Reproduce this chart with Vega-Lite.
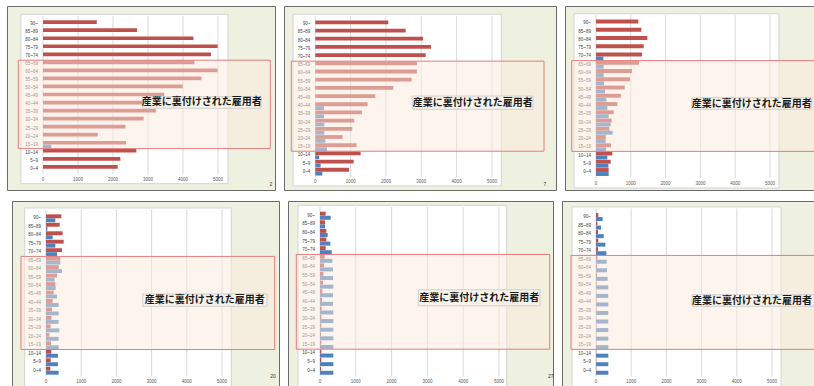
{
  "$schema": "https://vega.github.io/schema/vega-lite/v6.json",
  "background": "#ffffff",
  "padding": {"left": 6, "top": 5, "right": 0, "bottom": 0},
  "spacing": 9,
  "config": {
    "view": {"fill": "#eef0e0", "stroke": "#6b6b6b", "strokeWidth": 1},
    "axis": {"disable": true},
    "text": {"font": "Liberation Sans"}
  },
  "datasets": {
    "ticks": [{"v": 0}, {"v": 1000}, {"v": 2000}, {"v": 3000}, {"v": 4000}, {"v": 5000}],
    "note": [{"text": "産業に裏付けされた雇用者"}],
    "p1": [
      {"age": 90, "label": "90~", "red": 1537, "blue": 0},
      {"age": 85, "label": "85~89", "red": 2685, "blue": 0},
      {"age": 80, "label": "80~84", "red": 4298, "blue": 0},
      {"age": 75, "label": "75~79", "red": 4990, "blue": 0},
      {"age": 70, "label": "70~74", "red": 4801, "blue": 0},
      {"age": 65, "label": "65~69", "red": 4326, "blue": 0},
      {"age": 60, "label": "60~64", "red": 4990, "blue": 0},
      {"age": 55, "label": "55~59", "red": 4526, "blue": 0},
      {"age": 50, "label": "50~54", "red": 3994, "blue": 0},
      {"age": 45, "label": "45~49", "red": 3463, "blue": 0},
      {"age": 40, "label": "40~44", "red": 3150, "blue": 0},
      {"age": 35, "label": "35~39", "red": 3226, "blue": 0},
      {"age": 30, "label": "30~34", "red": 2875, "blue": 0},
      {"age": 25, "label": "25~29", "red": 2353, "blue": 0},
      {"age": 20, "label": "20~24", "red": 1565, "blue": 0},
      {"age": 15, "label": "15~19", "red": 2372, "blue": 237},
      {"age": 10, "label": "10~14", "red": 2666, "blue": 0},
      {"age": 5, "label": "5~9", "red": 2211, "blue": 0},
      {"age": 0, "label": "0~4", "red": 2135, "blue": 0}
    ],
    "p2": [
      {"age": 90, "label": "90~", "red": 2066, "blue": 0},
      {"age": 85, "label": "85~89", "red": 2557, "blue": 0},
      {"age": 80, "label": "80~84", "red": 3047, "blue": 0},
      {"age": 75, "label": "75~79", "red": 3274, "blue": 0},
      {"age": 70, "label": "70~74", "red": 3123, "blue": 0},
      {"age": 65, "label": "65~69", "red": 2877, "blue": 0},
      {"age": 60, "label": "60~64", "red": 2877, "blue": 0},
      {"age": 55, "label": "55~59", "red": 2726, "blue": 0},
      {"age": 50, "label": "50~54", "red": 2208, "blue": 0},
      {"age": 45, "label": "45~49", "red": 1698, "blue": 0},
      {"age": 40, "label": "40~44", "red": 1481, "blue": 245},
      {"age": 35, "label": "35~39", "red": 1321, "blue": 245},
      {"age": 30, "label": "30~34", "red": 1104, "blue": 255},
      {"age": 25, "label": "25~29", "red": 1047, "blue": 255},
      {"age": 20, "label": "20~24", "red": 774, "blue": 283},
      {"age": 15, "label": "15~19", "red": 1170, "blue": 330},
      {"age": 10, "label": "10~14", "red": 1283, "blue": 104},
      {"age": 5, "label": "5~9", "red": 1085, "blue": 151},
      {"age": 0, "label": "0~4", "red": 953, "blue": 198}
    ],
    "p3": [
      {"age": 90, "label": "90~", "red": 1216, "blue": 0},
      {"age": 85, "label": "85~89", "red": 1303, "blue": 0},
      {"age": 80, "label": "80~84", "red": 1475, "blue": 0},
      {"age": 75, "label": "75~79", "red": 1370, "blue": 0},
      {"age": 70, "label": "70~74", "red": 1322, "blue": 211},
      {"age": 65, "label": "65~69", "red": 1236, "blue": 220},
      {"age": 60, "label": "60~64", "red": 1034, "blue": 220},
      {"age": 55, "label": "55~59", "red": 977, "blue": 230},
      {"age": 50, "label": "50~54", "red": 824, "blue": 259},
      {"age": 45, "label": "45~49", "red": 718, "blue": 297},
      {"age": 40, "label": "40~44", "red": 613, "blue": 326},
      {"age": 35, "label": "35~39", "red": 508, "blue": 364},
      {"age": 30, "label": "30~34", "red": 450, "blue": 421},
      {"age": 25, "label": "25~29", "red": 383, "blue": 479},
      {"age": 20, "label": "20~24", "red": 278, "blue": 278},
      {"age": 15, "label": "15~19", "red": 431, "blue": 287},
      {"age": 10, "label": "10~14", "red": 469, "blue": 326},
      {"age": 5, "label": "5~9", "red": 421, "blue": 355},
      {"age": 0, "label": "0~4", "red": 364, "blue": 364}
    ],
    "p4": [
      {"age": 90, "label": "90~", "red": 436, "blue": 265},
      {"age": 85, "label": "85~89", "red": 388, "blue": 38},
      {"age": 80, "label": "80~84", "red": 473, "blue": 189},
      {"age": 75, "label": "75~79", "red": 502, "blue": 265},
      {"age": 70, "label": "70~74", "red": 455, "blue": 312},
      {"age": 65, "label": "65~69", "red": 407, "blue": 407},
      {"age": 60, "label": "60~64", "red": 360, "blue": 455},
      {"age": 55, "label": "55~59", "red": 312, "blue": 246},
      {"age": 50, "label": "50~54", "red": 265, "blue": 275},
      {"age": 45, "label": "45~49", "red": 218, "blue": 312},
      {"age": 40, "label": "40~44", "red": 189, "blue": 360},
      {"age": 35, "label": "35~39", "red": 170, "blue": 360},
      {"age": 30, "label": "30~34", "red": 152, "blue": 360},
      {"age": 25, "label": "25~29", "red": 133, "blue": 379},
      {"age": 20, "label": "20~24", "red": 95, "blue": 360},
      {"age": 15, "label": "15~19", "red": 142, "blue": 360},
      {"age": 10, "label": "10~14", "red": 152, "blue": 341},
      {"age": 5, "label": "5~9", "red": 133, "blue": 341},
      {"age": 0, "label": "0~4", "red": 123, "blue": 360}
    ],
    "p5": [
      {"age": 90, "label": "90~", "red": 158, "blue": 298},
      {"age": 85, "label": "85~89", "red": 140, "blue": 140},
      {"age": 80, "label": "80~84", "red": 177, "blue": 214},
      {"age": 75, "label": "75~79", "red": 177, "blue": 289},
      {"age": 70, "label": "70~74", "red": 158, "blue": 326},
      {"age": 65, "label": "65~69", "red": 130, "blue": 345},
      {"age": 60, "label": "60~64", "red": 112, "blue": 363},
      {"age": 55, "label": "55~59", "red": 93, "blue": 363},
      {"age": 50, "label": "50~54", "red": 84, "blue": 372},
      {"age": 45, "label": "45~49", "red": 65, "blue": 363},
      {"age": 40, "label": "40~44", "red": 56, "blue": 363},
      {"age": 35, "label": "35~39", "red": 47, "blue": 372},
      {"age": 30, "label": "30~34", "red": 37, "blue": 372},
      {"age": 25, "label": "25~29", "red": 37, "blue": 372},
      {"age": 20, "label": "20~24", "red": 28, "blue": 372},
      {"age": 15, "label": "15~19", "red": 37, "blue": 372},
      {"age": 10, "label": "10~14", "red": 37, "blue": 372},
      {"age": 5, "label": "5~9", "red": 37, "blue": 372},
      {"age": 0, "label": "0~4", "red": 28, "blue": 372}
    ],
    "p6": [
      {"age": 90, "label": "90~", "red": 66, "blue": 189},
      {"age": 85, "label": "85~89", "red": 38, "blue": 142},
      {"age": 80, "label": "80~84", "red": 57, "blue": 218},
      {"age": 75, "label": "75~79", "red": 66, "blue": 265},
      {"age": 70, "label": "70~74", "red": 57, "blue": 294},
      {"age": 65, "label": "65~69", "red": 38, "blue": 303},
      {"age": 60, "label": "60~64", "red": 28, "blue": 313},
      {"age": 55, "label": "55~59", "red": 28, "blue": 331},
      {"age": 50, "label": "50~54", "red": 19, "blue": 350},
      {"age": 45, "label": "45~49", "red": 10, "blue": 350},
      {"age": 40, "label": "40~44", "red": 10, "blue": 350},
      {"age": 35, "label": "35~39", "red": 10, "blue": 350},
      {"age": 30, "label": "30~34", "red": 10, "blue": 350},
      {"age": 25, "label": "25~29", "red": 10, "blue": 350},
      {"age": 20, "label": "20~24", "red": 10, "blue": 350},
      {"age": 15, "label": "15~19", "red": 10, "blue": 350},
      {"age": 10, "label": "10~14", "red": 10, "blue": 350},
      {"age": 5, "label": "5~9", "red": 10, "blue": 350},
      {"age": 0, "label": "0~4", "red": 10, "blue": 350}
    ]
  },
  "vconcat": [
    {
      "hconcat": [
        {
          "width": 268, "height": 184,
          "data": {"name": "p1"},
          "layer": [
            {"data": {"name": "note"}, "mark": {"type": "rect", "fill": "#ffffff", "stroke": "#d4d4d4", "strokeWidth": 1},
             "encoding": {"x": {"datum": -629, "type": "quantitative", "scale": {"domain": [-1029, 6629], "nice": false, "zero": false, "padding": 0}}, "x2": {"datum": 5286},
                          "y": {"datum": 96, "type": "quantitative", "scale": {"domain": [-13.25, 101.2], "nice": false, "zero": false, "padding": 0}}, "y2": {"datum": -9.3}}},
            {"data": {"name": "ticks"}, "mark": {"type": "rule", "color": "#d9d9d9", "strokeWidth": 1},
             "encoding": {"x": {"field": "v", "type": "quantitative"}, "y": {"datum": 95}, "y2": {"datum": -3.5}}},
            {"data": {"name": "ticks"}, "mark": {"type": "text", "fontSize": 4.5, "color": "#595959", "baseline": "middle"},
             "encoding": {"x": {"field": "v", "type": "quantitative"}, "y": {"datum": -7}, "text": {"field": "v", "format": "d"}}},
            {"mark": {"type": "bar", "orient": "horizontal", "size": 3.7, "yOffset": -1.85, "color": "#c0504d"},
             "encoding": {"x": {"field": "red", "type": "quantitative"}, "y": {"field": "age", "type": "quantitative"}}},
            {"mark": {"type": "bar", "orient": "horizontal", "size": 3.7, "yOffset": 1.85, "color": "#4f81bd"},
             "encoding": {"x": {"field": "blue", "type": "quantitative"}, "y": {"field": "age", "type": "quantitative"}}},
            {"mark": {"type": "text", "fontSize": 4.5, "color": "#404040", "align": "right", "baseline": "middle", "dx": -5},
             "encoding": {"x": {"datum": 0}, "y": {"field": "age", "type": "quantitative"}, "text": {"field": "label"}}},
            {"data": {"name": "note"}, "mark": {"type": "rect", "fill": "#fbeadb", "fillOpacity": 0.5, "stroke": "#e67c7c", "strokeWidth": 1, "clip": true},
             "encoding": {"x": {"datum": -706}, "x2": {"datum": 6494}, "y": {"datum": 67.5}, "y2": {"datum": 12.5}}},
            {"data": {"name": "note"}, "mark": {"type": "rect", "fill": "#f7f3ea", "stroke": "#cfcfcf", "strokeWidth": 1},
             "encoding": {"x": {"datum": 2849}, "x2": {"datum": 6228}, "y": {"datum": 44.8}, "y2": {"datum": 37.6}}},
            {"data": {"name": "note"}, "mark": {"type": "text", "font": "Noto Sans CJK JP", "fontSize": 10, "fontWeight": "bold", "color": "#1a1a1a", "baseline": "middle"},
             "encoding": {"x": {"datum": 4538}, "y": {"datum": 41.2}, "text": {"field": "text"}}},
            {"data": {"values": [{"page": "2"}]}, "mark": {"type": "text", "fontSize": 5, "color": "#333333", "baseline": "middle"},
             "encoding": {"x": {"datum": 6514}, "y": {"datum": -9.5}, "text": {"field": "page"}}}
          ]
        },
        {
          "width": 272, "height": 184,
          "data": {"name": "p2"},
          "layer": [
            {"data": {"name": "note"}, "mark": {"type": "rect", "fill": "#ffffff", "stroke": "#d4d4d4", "strokeWidth": 1},
             "encoding": {"x": {"datum": -631, "type": "quantitative", "scale": {"domain": [-886, 6813], "nice": false, "zero": false, "padding": 0}}, "x2": {"datum": 5265},
                          "y": {"datum": 96.1, "type": "quantitative", "scale": {"domain": [-11.17, 101.17], "nice": false, "zero": false, "padding": 0}}, "y2": {"datum": -8.7}}},
            {"data": {"name": "ticks"}, "mark": {"type": "rule", "color": "#d9d9d9", "strokeWidth": 1},
             "encoding": {"x": {"field": "v", "type": "quantitative"}, "y": {"datum": 95}, "y2": {"datum": -3.5}}},
            {"data": {"name": "ticks"}, "mark": {"type": "text", "fontSize": 4.5, "color": "#595959", "baseline": "middle"},
             "encoding": {"x": {"field": "v", "type": "quantitative"}, "y": {"datum": -6.5}, "text": {"field": "v", "format": "d"}}},
            {"mark": {"type": "bar", "orient": "horizontal", "size": 3.8, "yOffset": -1.95, "color": "#c0504d"},
             "encoding": {"x": {"field": "red", "type": "quantitative"}, "y": {"field": "age", "type": "quantitative"}}},
            {"mark": {"type": "bar", "orient": "horizontal", "size": 3.8, "yOffset": 1.95, "color": "#4f81bd"},
             "encoding": {"x": {"field": "blue", "type": "quantitative"}, "y": {"field": "age", "type": "quantitative"}}},
            {"mark": {"type": "text", "fontSize": 4.5, "color": "#404040", "align": "right", "baseline": "middle", "dx": -5},
             "encoding": {"x": {"datum": 0}, "y": {"field": "age", "type": "quantitative"}, "text": {"field": "label"}}},
            {"data": {"name": "note"}, "mark": {"type": "rect", "fill": "#fbeadb", "fillOpacity": 0.5, "stroke": "#e67c7c", "strokeWidth": 1, "clip": true},
             "encoding": {"x": {"datum": -679}, "x2": {"datum": 6473}, "y": {"datum": 67.5}, "y2": {"datum": 12.5}}},
            {"data": {"name": "note"}, "mark": {"type": "rect", "fill": "#f7f3ea", "stroke": "#cfcfcf", "strokeWidth": 1},
             "encoding": {"x": {"datum": 2745}, "x2": {"datum": 6162}, "y": {"datum": 46.2}, "y2": {"datum": 38.1}}},
            {"data": {"name": "note"}, "mark": {"type": "text", "font": "Noto Sans CJK JP", "fontSize": 10, "fontWeight": "bold", "color": "#1a1a1a", "baseline": "middle"},
             "encoding": {"x": {"datum": 4454}, "y": {"datum": 42.1}, "text": {"field": "text"}}},
            {"data": {"values": [{"page": "7"}]}, "mark": {"type": "text", "fontSize": 5, "color": "#333333", "baseline": "middle"},
             "encoding": {"x": {"datum": 6501}, "y": {"datum": -7.5}, "text": {"field": "page"}}}
          ]
        },
        {
          "width": 252, "height": 184,
          "data": {"name": "p3"},
          "layer": [
            {"data": {"name": "note"}, "mark": {"type": "rect", "fill": "#ffffff", "stroke": "#d4d4d4", "strokeWidth": 1},
             "encoding": {"x": {"datum": -632, "type": "quantitative", "scale": {"domain": [-891, 6350], "nice": false, "zero": false, "padding": 0}}, "x2": {"datum": 5258},
                          "y": {"datum": 95.9, "type": "quantitative", "scale": {"domain": [-10.9, 100.6], "nice": false, "zero": false, "padding": 0}}, "y2": {"datum": -9.7}}},
            {"data": {"name": "ticks"}, "mark": {"type": "rule", "color": "#d9d9d9", "strokeWidth": 1},
             "encoding": {"x": {"field": "v", "type": "quantitative"}, "y": {"datum": 95}, "y2": {"datum": -3.5}}},
            {"data": {"name": "ticks"}, "mark": {"type": "text", "fontSize": 4.5, "color": "#595959", "baseline": "middle"},
             "encoding": {"x": {"field": "v", "type": "quantitative"}, "y": {"datum": -7}, "text": {"field": "v", "format": "d"}}},
            {"mark": {"type": "bar", "orient": "horizontal", "size": 3.9, "yOffset": -2, "color": "#c0504d"},
             "encoding": {"x": {"field": "red", "type": "quantitative"}, "y": {"field": "age", "type": "quantitative"}}},
            {"mark": {"type": "bar", "orient": "horizontal", "size": 3.9, "yOffset": 2, "color": "#4f81bd"},
             "encoding": {"x": {"field": "blue", "type": "quantitative"}, "y": {"field": "age", "type": "quantitative"}}},
            {"mark": {"type": "text", "fontSize": 4.5, "color": "#404040", "align": "right", "baseline": "middle", "dx": -5},
             "encoding": {"x": {"datum": 0}, "y": {"field": "age", "type": "quantitative"}, "text": {"field": "label"}}},
            {"data": {"name": "note"}, "mark": {"type": "rect", "fill": "#fbeadb", "fillOpacity": 0.5, "stroke": "#e67c7c", "strokeWidth": 1, "clip": true},
             "encoding": {"x": {"datum": -698}, "x2": {"datum": 6600}, "y": {"datum": 67.5}, "y2": {"datum": 12.5}}},
            {"data": {"name": "note"}, "mark": {"type": "rect", "fill": "#f7f3ea", "stroke": "#cfcfcf", "strokeWidth": 1},
             "encoding": {"x": {"datum": 2750}, "x2": {"datum": 6198}, "y": {"datum": 45.0}, "y2": {"datum": 38.0}}},
            {"data": {"name": "note"}, "mark": {"type": "text", "font": "Noto Sans CJK JP", "fontSize": 10, "fontWeight": "bold", "color": "#1a1a1a", "baseline": "middle"},
             "encoding": {"x": {"datum": 4474}, "y": {"datum": 41.5}, "text": {"field": "text"}}}
          ]
        }
      ],
      "spacing": 7
    },
    {
      "hconcat": [
        {
          "width": 1, "height": 186,
          "data": {"values": []},
          "mark": "point",
          "view": {"stroke": null, "fill": null}
        },
        {
          "hconcat": [
            {
              "width": 267, "height": 186,
              "data": {"name": "p4"},
              "layer": [
                {"data": {"name": "note"}, "mark": {"type": "rect", "fill": "#ffffff", "stroke": "#d4d4d4", "strokeWidth": 1},
                 "encoding": {"x": {"datum": -606, "type": "quantitative", "scale": {"domain": [-966, 6619], "nice": false, "zero": false, "padding": 0}}, "x2": {"datum": 5264},
                              "y": {"datum": 96.1, "type": "quantitative", "scale": {"domain": [-9.63, 100.22], "nice": false, "zero": false, "padding": 0}}, "y2": {"datum": -9.5}}},
                {"data": {"name": "ticks"}, "mark": {"type": "rule", "color": "#d9d9d9", "strokeWidth": 1},
                 "encoding": {"x": {"field": "v", "type": "quantitative"}, "y": {"datum": 95}, "y2": {"datum": -3.5}}},
                {"data": {"name": "ticks"}, "mark": {"type": "text", "fontSize": 4.5, "color": "#595959", "baseline": "middle"},
                 "encoding": {"x": {"field": "v", "type": "quantitative"}, "y": {"datum": -6.5}, "text": {"field": "v", "format": "d"}}},
                {"mark": {"type": "bar", "orient": "horizontal", "size": 3.9, "yOffset": -2, "color": "#c0504d"},
                 "encoding": {"x": {"field": "red", "type": "quantitative"}, "y": {"field": "age", "type": "quantitative"}}},
                {"mark": {"type": "bar", "orient": "horizontal", "size": 3.9, "yOffset": 2, "color": "#4f81bd"},
                 "encoding": {"x": {"field": "blue", "type": "quantitative"}, "y": {"field": "age", "type": "quantitative"}}},
                {"mark": {"type": "text", "fontSize": 4.5, "color": "#404040", "align": "right", "baseline": "middle", "dx": -5},
                 "encoding": {"x": {"datum": 0}, "y": {"field": "age", "type": "quantitative"}, "text": {"field": "label"}}},
                {"data": {"name": "note"}, "mark": {"type": "rect", "fill": "#fbeadb", "fillOpacity": 0.5, "stroke": "#e67c7c", "strokeWidth": 1, "clip": true},
                 "encoding": {"x": {"datum": -711}, "x2": {"datum": 6497}, "y": {"datum": 67.5}, "y2": {"datum": 12.5}}},
                {"data": {"name": "note"}, "mark": {"type": "rect", "fill": "#f7f3ea", "stroke": "#cfcfcf", "strokeWidth": 1},
                 "encoding": {"x": {"datum": 2747}, "x2": {"datum": 6278}, "y": {"datum": 45.3}, "y2": {"datum": 38.0}}},
                {"data": {"name": "note"}, "mark": {"type": "text", "font": "Noto Sans CJK JP", "fontSize": 10, "fontWeight": "bold", "color": "#1a1a1a", "baseline": "middle"},
                 "encoding": {"x": {"datum": 4512}, "y": {"datum": 41.65}, "text": {"field": "text"}}},
                {"data": {"values": [{"page": "20"}]}, "mark": {"type": "text", "fontSize": 5, "color": "#333333", "baseline": "middle"},
                 "encoding": {"x": {"datum": 6448}, "y": {"datum": -3}, "text": {"field": "page"}}}
              ]
            },
            {
              "width": 265, "height": 186,
              "data": {"name": "p5"},
              "layer": [
                {"data": {"name": "note"}, "mark": {"type": "rect", "fill": "#ffffff", "stroke": "#d4d4d4", "strokeWidth": 1},
                 "encoding": {"x": {"datum": -615, "type": "quantitative", "scale": {"domain": [-894, 6508], "nice": false, "zero": false, "padding": 0}}, "x2": {"datum": 5215},
                              "y": {"datum": 96.0, "type": "quantitative", "scale": {"domain": [-9.46, 98.54], "nice": false, "zero": false, "padding": 0}}, "y2": {"datum": -9.4}}},
                {"data": {"name": "ticks"}, "mark": {"type": "rule", "color": "#d9d9d9", "strokeWidth": 1},
                 "encoding": {"x": {"field": "v", "type": "quantitative"}, "y": {"datum": 95}, "y2": {"datum": -3.5}}},
                {"data": {"name": "ticks"}, "mark": {"type": "text", "fontSize": 4.5, "color": "#595959", "baseline": "middle"},
                 "encoding": {"x": {"field": "v", "type": "quantitative"}, "y": {"datum": -6.5}, "text": {"field": "v", "format": "d"}}},
                {"mark": {"type": "bar", "orient": "horizontal", "size": 4, "yOffset": -2.05, "color": "#c0504d"},
                 "encoding": {"x": {"field": "red", "type": "quantitative"}, "y": {"field": "age", "type": "quantitative"}}},
                {"mark": {"type": "bar", "orient": "horizontal", "size": 4, "yOffset": 2.05, "color": "#4f81bd"},
                 "encoding": {"x": {"field": "blue", "type": "quantitative"}, "y": {"field": "age", "type": "quantitative"}}},
                {"mark": {"type": "text", "fontSize": 4.5, "color": "#404040", "align": "right", "baseline": "middle", "dx": -5},
                 "encoding": {"x": {"datum": 0}, "y": {"field": "age", "type": "quantitative"}, "text": {"field": "label"}}},
                {"data": {"name": "note"}, "mark": {"type": "rect", "fill": "#fbeadb", "fillOpacity": 0.5, "stroke": "#e67c7c", "strokeWidth": 1, "clip": true},
                 "encoding": {"x": {"datum": -662}, "x2": {"datum": 6416}, "y": {"datum": 67.5}, "y2": {"datum": 12.5}}},
                {"data": {"name": "note"}, "mark": {"type": "rect", "fill": "#f7f3ea", "stroke": "#cfcfcf", "strokeWidth": 1},
                 "encoding": {"x": {"datum": 2746}, "x2": {"datum": 6145}, "y": {"datum": 47.0}, "y2": {"datum": 37.7}}},
                {"data": {"name": "note"}, "mark": {"type": "text", "font": "Noto Sans CJK JP", "fontSize": 10, "fontWeight": "bold", "color": "#1a1a1a", "baseline": "middle"},
                 "encoding": {"x": {"datum": 4446}, "y": {"datum": 42.35}, "text": {"field": "text"}}},
                {"data": {"values": [{"page": "27"}]}, "mark": {"type": "text", "fontSize": 5, "color": "#333333", "baseline": "middle"},
                 "encoding": {"x": {"datum": 6444}, "y": {"datum": -3.3}, "text": {"field": "page"}}}
              ]
            },
            {
              "width": 256, "height": 186,
              "data": {"name": "p6"},
              "layer": [
                {"data": {"name": "note"}, "mark": {"type": "rect", "fill": "#ffffff", "stroke": "#d4d4d4", "strokeWidth": 1},
                 "encoding": {"x": {"datum": -682, "type": "quantitative", "scale": {"domain": [-966, 6307], "nice": false, "zero": false, "padding": 0}}, "x2": {"datum": 5256},
                              "y": {"datum": 95.9, "type": "quantitative", "scale": {"domain": [-9.54, 99.37], "nice": false, "zero": false, "padding": 0}}, "y2": {"datum": -9.5}}},
                {"data": {"name": "ticks"}, "mark": {"type": "rule", "color": "#d9d9d9", "strokeWidth": 1},
                 "encoding": {"x": {"field": "v", "type": "quantitative"}, "y": {"datum": 95}, "y2": {"datum": -3.5}}},
                {"data": {"name": "ticks"}, "mark": {"type": "text", "fontSize": 4.5, "color": "#595959", "baseline": "middle"},
                 "encoding": {"x": {"field": "v", "type": "quantitative"}, "y": {"datum": -6.5}, "text": {"field": "v", "format": "d"}}},
                {"mark": {"type": "bar", "orient": "horizontal", "size": 4, "yOffset": -2.05, "color": "#c0504d"},
                 "encoding": {"x": {"field": "red", "type": "quantitative"}, "y": {"field": "age", "type": "quantitative"}}},
                {"mark": {"type": "bar", "orient": "horizontal", "size": 4, "yOffset": 2.05, "color": "#4f81bd"},
                 "encoding": {"x": {"field": "blue", "type": "quantitative"}, "y": {"field": "age", "type": "quantitative"}}},
                {"mark": {"type": "text", "fontSize": 4.5, "color": "#404040", "align": "right", "baseline": "middle", "dx": -5},
                 "encoding": {"x": {"datum": 0}, "y": {"field": "age", "type": "quantitative"}, "text": {"field": "label"}}},
                {"data": {"name": "note"}, "mark": {"type": "rect", "fill": "#fbeadb", "fillOpacity": 0.5, "stroke": "#e67c7c", "strokeWidth": 1, "clip": true},
                 "encoding": {"x": {"datum": -710}, "x2": {"datum": 6600}, "y": {"datum": 67.5}, "y2": {"datum": 12.5}}},
                {"data": {"name": "note"}, "mark": {"type": "rect", "fill": "#f7f3ea", "stroke": "#cfcfcf", "strokeWidth": 1},
                 "encoding": {"x": {"datum": 2727}, "x2": {"datum": 6202}, "y": {"datum": 44.5}, "y2": {"datum": 37.7}}},
                {"data": {"name": "note"}, "mark": {"type": "text", "font": "Noto Sans CJK JP", "fontSize": 10, "fontWeight": "bold", "color": "#1a1a1a", "baseline": "middle"},
                 "encoding": {"x": {"datum": 4430}, "y": {"datum": 41.1}, "text": {"field": "text"}}}
              ]
            }
          ],
          "spacing": 7
        }
      ],
      "spacing": 3
    }
  ]
}
